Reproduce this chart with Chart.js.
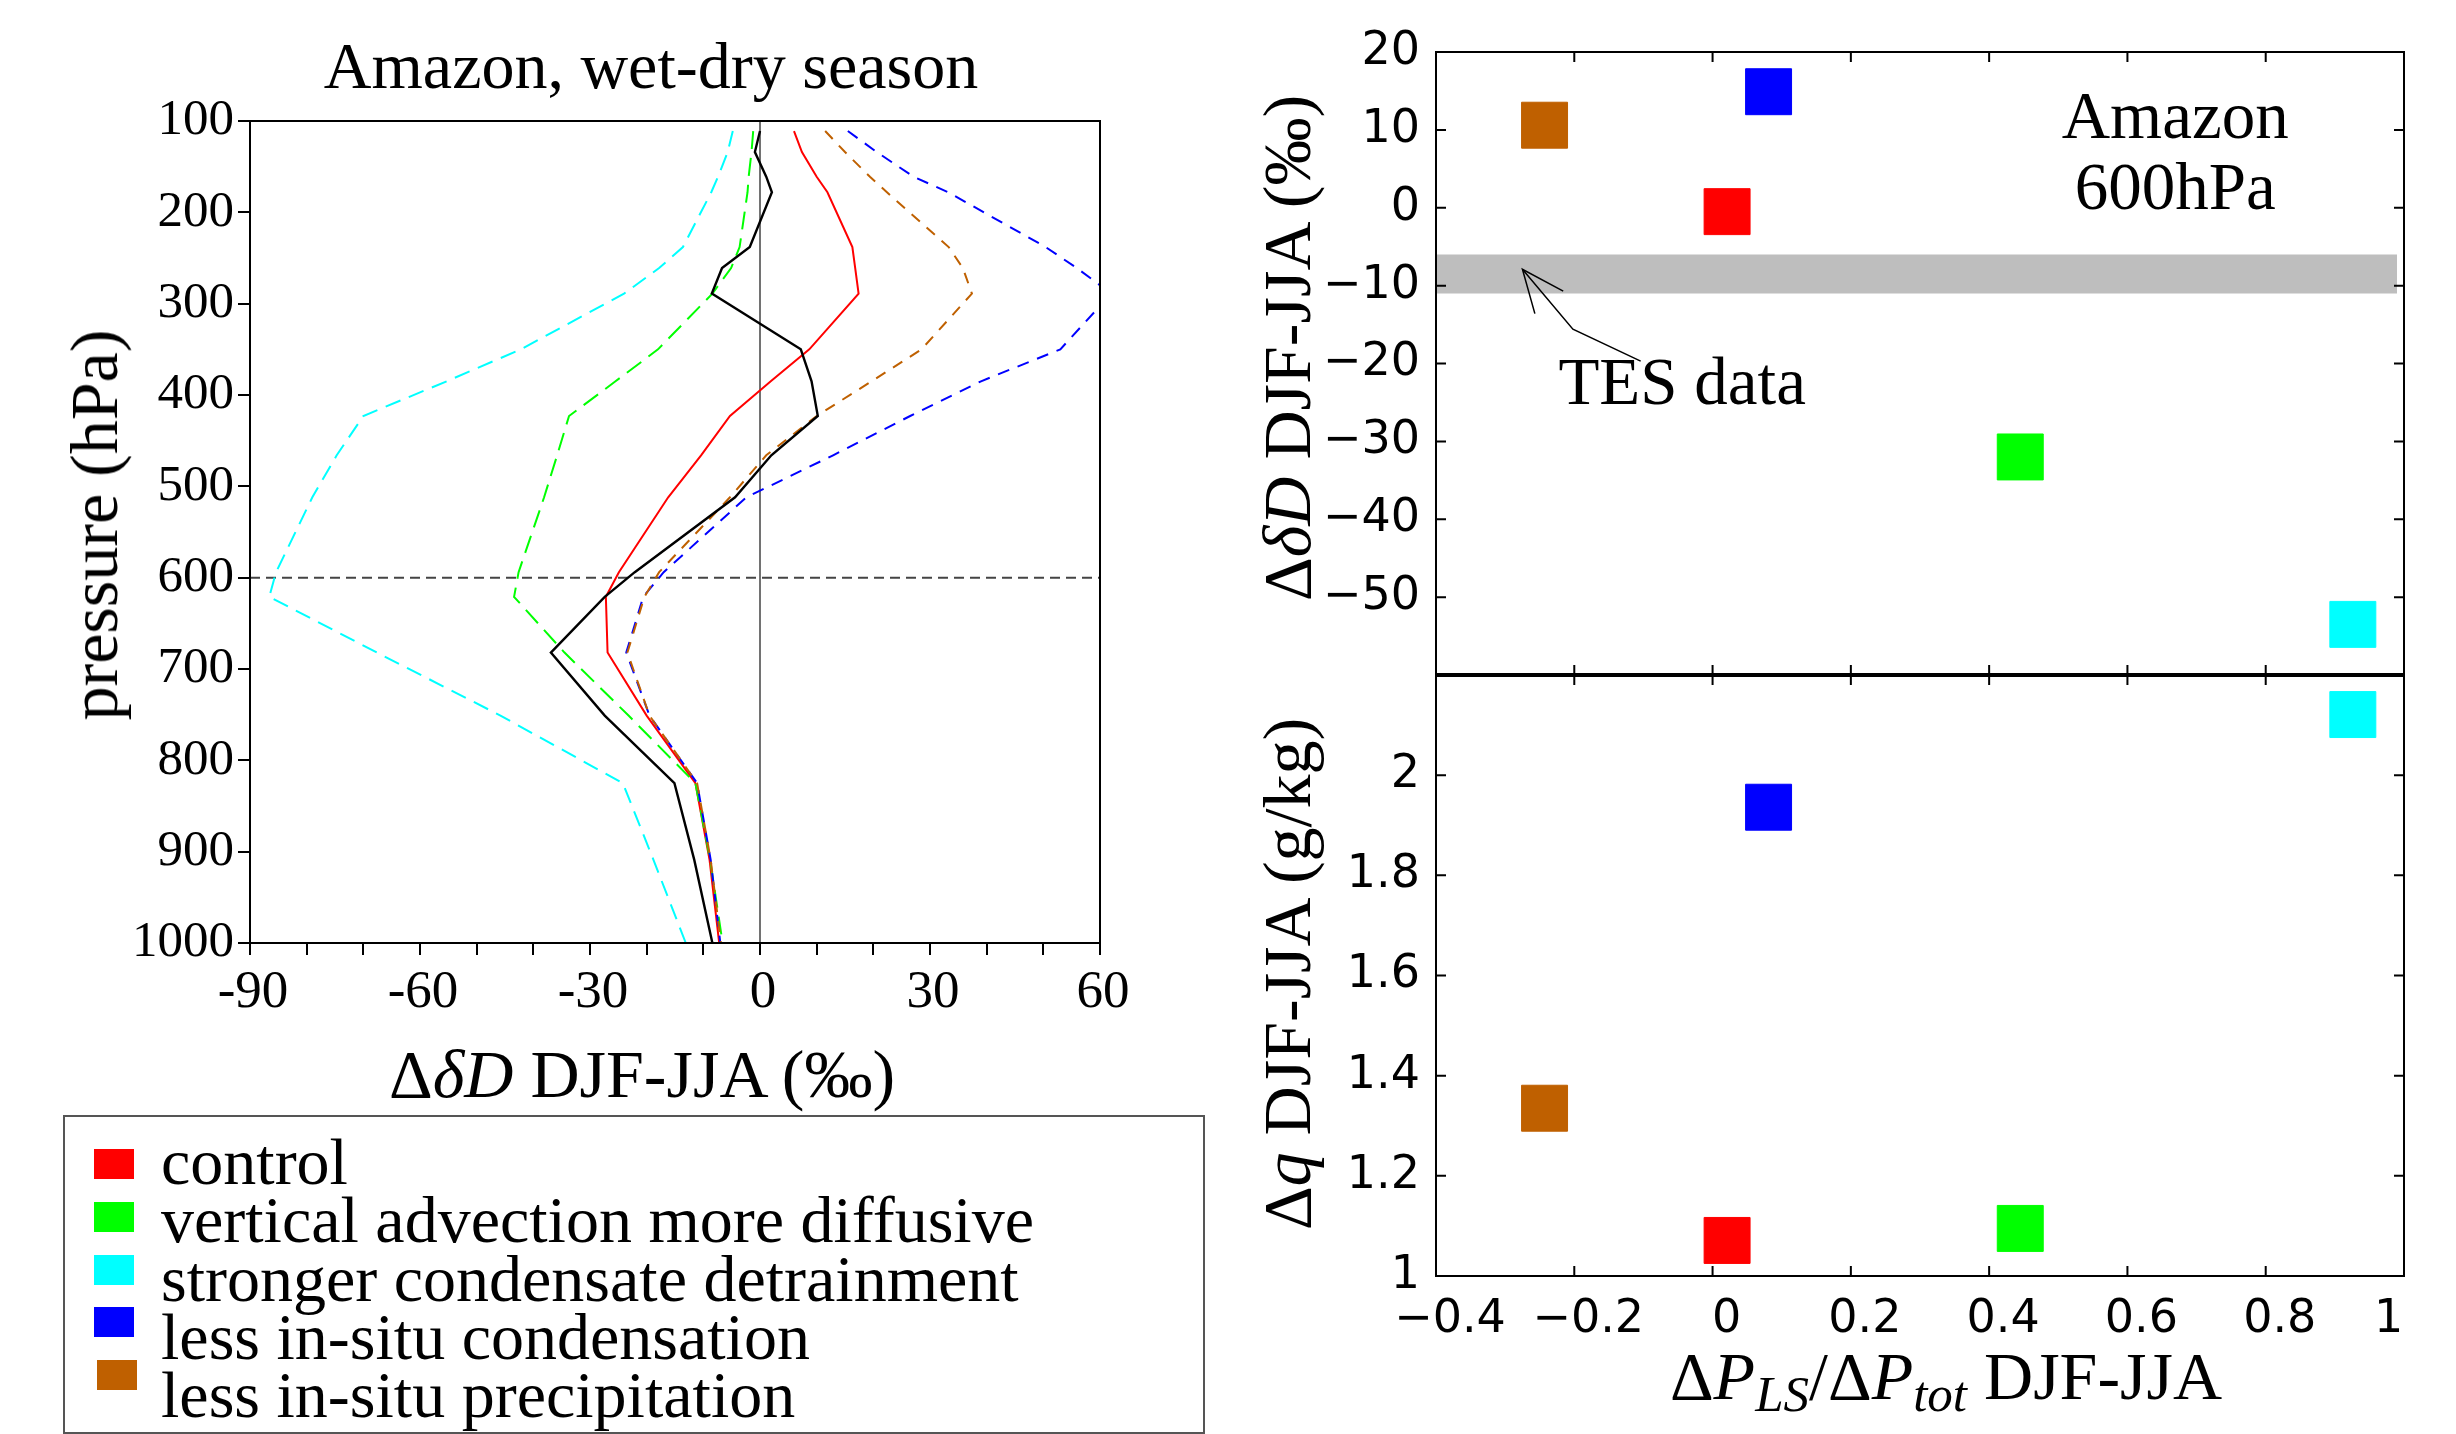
<!DOCTYPE html>
<html lang="en">
<head>
<meta charset="UTF-8">
<title>Amazon, wet-dry season</title>
<script src="https://cdn.jsdelivr.net/npm/chart.js"></script>
<style>
    body {
        margin: 0;
        width: 2456px;
        height: 1434px;
        position: relative;
        overflow: hidden;
        background: #fff;
        color: #000;
        font-family: "Liberation Serif", serif;
    }
    canvas { position: absolute; left: 0; top: 0; }
    .lbl {
        position: absolute;
        white-space: nowrap;
        font-size: 68px;
        line-height: 1;
        transform: translate(-50%, -50%);
    }
    .rot { transform: translate(-50%, -50%) rotate(-90deg); }
    .lbl sub { font-size: 0.75em; font-style: italic; vertical-align: -0.25em; }
    #legend {
        position: absolute;
        left: 63px;
        top: 1115px;
        width: 1138px;
        height: 315px;
        border: 2px solid #555;
    }
    .key { position: absolute; width: 40px; height: 30px; }
    .entry {
        position: absolute;
        left: 96px;
        font-size: 66px;
        line-height: 1;
        white-space: nowrap;
        transform: translateY(-50%);
    }
</style>
</head>
<body>
<canvas id="profiles" width="2456" height="1434"></canvas>
<canvas id="dDpanel" width="2456" height="1434"></canvas>
<canvas id="dqpanel" width="2456" height="1434"></canvas>

<div class="lbl" style="left:651px;top:66px;font-size:66px">Amazon, wet-dry season</div>
<div class="lbl" style="left:642px;top:1074px">Δ<i>δD</i> DJF-JJA (‰)</div>
<div class="lbl rot" style="left:94px;top:525px">pressure (hPa)</div>
<div class="lbl rot" style="left:1287px;top:348px">Δ<i>δD</i> DJF-JJA (‰)</div>
<div class="lbl rot" style="left:1287px;top:974px">Δ<i>q</i> DJF-JJA (g/kg)</div>
<div class="lbl" style="left:1946px;top:1381px">Δ<i>P</i><sub>LS</sub>/Δ<i>P</i><sub>tot</sub> DJF-JJA</div>
<div id="legend"></div>

<script>
    // experiments: names and colours shared by the legend and both panels
    const expNames = ['control', 'vertical advection more diffusive', 'stronger condensate detrainment',
                      'less in-situ condensation', 'less in-situ precipitation'];
    const expColors = ['#ff0000', '#00ff00', '#00ffff', '#0000ff', '#bf6000'];

    // model levels (hPa) and wet-dry season deltaD differences (permil)
    const levels      = [111, 134, 161, 178, 238, 261, 289, 350, 385, 423, 466, 512, 594, 621, 682, 751, 825, 909, 1000];
    const dDcontrol   = [6.0, 7.4, 10.0, 11.9, 16.3, 16.8, 17.4, 8.7, 1.9, -5.3, -10.4, -16.2, -24.9, -27.2, -26.9, -20.0, -11.4, -8.9, -7.2];
    const dDdiffusive = [-1.2, -1.5, -2.0, -2.2, -3.6, -5.1, -8.4, -18.0, -25.5, -33.7, -35.8, -38.1, -42.6, -43.4, -34.5, -23.2, -11.4, -8.8, -6.6];
    const dDdetrain   = [-4.8, -5.7, -7.4, -8.6, -13.6, -17.8, -24.0, -42.2, -55.3, -70.0, -74.7, -79.0, -85.4, -86.6, -67.6, -45.8, -24.2, -18.8, -13.1];
    const dDlessCond  = [15.5, 20.6, 27.1, 33.2, 50.4, 55.9, 62.0, 53.0, 39.0, 26.5, 12.9, -2.4, -17.0, -20.6, -23.6, -19.5, -11.1, -8.7, -7.0];
    const dDlessPrec  = [11.5, 15.0, 19.4, 22.4, 33.3, 35.8, 37.4, 28.5, 19.7, 10.0, 1.1, -5.3, -17.8, -20.4, -23.4, -19.5, -11.1, -8.7, -6.9];
    const dDblack     = [0.0, -0.9, 1.1, 2.1, -1.8, -6.7, -8.5, 7.2, 9.1, 10.2, 2.0, -4.4, -22.1, -27.4, -36.9, -27.4, -15.1, -11.6, -8.4];

    // 600 hPa values per experiment (same order as expNames)
    const lsFraction = [0.021, 0.445, 0.926, 0.081, -0.243];
    const dD600      = [-0.5, -32.0, -53.5, 14.9, 10.6];
    const dq600      = [1.071, 1.095, 2.121, 1.936, 1.335];

    // TES observed range at 600 hPa and the arrow pointing at it
    const tesRange = [-11, -6];
    const tesSpan  = [-0.4, 0.99];
    const tesArrowShaft = [[-0.275, -7.9], [-0.202, -15.6], [-0.104, -19.7]];
    const tesArrowHead  = [[-0.216, -10.7], [-0.275, -7.9], [-0.257, -13.6]];

    Chart.defaults.font.family = '"Liberation Serif", serif';
    Chart.defaults.color = '#000';
    Chart.defaults.animation = false;
    Chart.defaults.responsive = false;
    Chart.defaults.events = [];
    Chart.defaults.plugins.legend.display = false;
    Chart.defaults.plugins.tooltip.enabled = false;

    const minus = v => {
        const n = parseFloat(v.toFixed(1));
        return n < 0 ? '\u2212' + Math.abs(n) : String(n);
    };

    // frame around the plot area, optionally with inward ticks on all four sides
    const frame = {
        id: 'frame',
        afterDraw(chart, args, opts) {
            const {ctx, chartArea: a, scales} = chart;
            ctx.save();
            ctx.strokeStyle = '#000';
            ctx.lineWidth = 2;
            if (opts.inner) {
                ctx.beginPath();
                for (const t of scales.x.ticks) {
                    const px = scales.x.getPixelForValue(t.value);
                    ctx.moveTo(px, a.top); ctx.lineTo(px, a.top + opts.inner);
                    ctx.moveTo(px, a.bottom); ctx.lineTo(px, a.bottom - opts.inner);
                }
                for (const t of scales.y.ticks) {
                    const py = scales.y.getPixelForValue(t.value);
                    ctx.moveTo(a.left, py); ctx.lineTo(a.left + opts.inner, py);
                    ctx.moveTo(a.right, py); ctx.lineTo(a.right - opts.inner, py);
                }
                ctx.stroke();
            }
            ctx.strokeRect(a.left, a.top, a.width, a.height);
            if (opts.bottomWidth) {
                ctx.lineWidth = opts.bottomWidth;
                ctx.beginPath();
                ctx.moveTo(a.left - 1, a.bottom);
                ctx.lineTo(a.right + 1, a.bottom);
                ctx.stroke();
            }
            ctx.restore();
        }
    };

    // text placed in data coordinates
    const notes = {
        id: 'notes',
        afterDatasetsDraw(chart, args, opts) {
            if (!opts.items) return;
            const {ctx, scales} = chart;
            ctx.save();
            ctx.fillStyle = '#000';
            ctx.textAlign = 'center';
            ctx.textBaseline = 'middle';
            ctx.font = opts.font;
            for (const n of opts.items) {
                ctx.fillText(n.text, scales.x.getPixelForValue(n.x), scales.y.getPixelForValue(n.y));
            }
            ctx.restore();
        }
    };

    const fixSize = (prop, size) => scale => { scale[prop] = size; };
    const line = (data, color, width, dash) => ({
        data, showLine: true, borderColor: color, borderWidth: width,
        borderDash: dash || [], pointRadius: 0, fill: false, tension: 0
    });
    const profile = vals => vals.map((v, i) => ({x: v, y: levels[i]}));
    const pts = arr => arr.map(p => ({x: p[0], y: p[1]}));

    // ---- vertical profiles ----
    new Chart(document.getElementById('profiles'), {
        type: 'scatter',
        data: {
            datasets: [
                line(profile(dDblack), '#000', 2.4),
                line(profile(dDlessPrec), expColors[4], 2, [11, 9]),
                line(profile(dDlessCond), expColors[3], 2, [12, 9]),
                line(profile(dDdiffusive), expColors[1], 2, [18, 9]),
                line(profile(dDdetrain), expColors[2], 2, [16, 9]),
                line(profile(dDcontrol), expColors[0], 2),
                line([{x: 0, y: 100}, {x: 0, y: 1000}], '#444', 1.5),
                line([{x: -90, y: 600}, {x: 60, y: 600}], '#444', 2, [10, 6])
            ]
        },
        options: {
            layout: {padding: {top: 121, right: 1356, left: 0, bottom: 0}},
            scales: {
                x: {
                    type: 'linear', min: -90, max: 60,
                    afterFit: fixSize('height', 491),
                    grid: {drawOnChartArea: false, tickLength: 12, color: '#000', lineWidth: 2},
                    border: {color: '#000', width: 2},
                    ticks: {
                        stepSize: 10, autoSkip: false, maxRotation: 0, padding: 6, labelOffset: 3,
                        font: {size: 53},
                        callback: v => (v % 30 === 0 ? String(v) : '')
                    }
                },
                y: {
                    type: 'linear', min: 100, max: 1000, reverse: true,
                    afterFit: fixSize('width', 250),
                    grid: {drawOnChartArea: false, tickLength: 12, color: '#000', lineWidth: 2},
                    border: {color: '#000', width: 2},
                    ticks: {stepSize: 100, autoSkip: false, padding: 4, font: {size: 51}, callback: v => String(v)}
                }
            },
            plugins: {frame: {}}
        },
        plugins: [frame]
    });

    // ---- deltaD at 600 hPa against large-scale precipitation fraction ----
    const squares = vals => vals.map((v, i) => ({x: lsFraction[i], y: v}));
    const squareSet = vals => ({
        data: squares(vals),
        pointStyle: 'rect', pointRadius: 32.5, borderWidth: 1,
        pointBackgroundColor: expColors, pointBorderColor: expColors, showLine: false
    });
    const rightX = {
        type: 'linear', min: -0.4, max: 1,
        grid: {display: false}, border: {display: false},
        ticks: {stepSize: 0.2, autoSkip: false, maxRotation: 0}
    };
    const rightTickFont = {family: '"DejaVu Sans", sans-serif', size: 46};

    new Chart(document.getElementById('dDpanel'), {
        type: 'scatter',
        data: {
            datasets: [
                squareSet(dD600),
                line(pts(tesArrowShaft), '#000', 1.5),
                line(pts(tesArrowHead), '#000', 1.5),
                {
                    data: tesSpan.map(x => ({x, y: tesRange[1]})), showLine: true,
                    borderWidth: 0, pointRadius: 0, fill: '+1', backgroundColor: '#bebebe'
                },
                {
                    data: tesSpan.map(x => ({x, y: tesRange[0]})), showLine: true,
                    borderWidth: 0, pointRadius: 0, fill: false
                }
            ]
        },
        options: {
            layout: {padding: {top: 52, right: 52, left: 0, bottom: 759}},
            scales: {
                x: Object.assign({}, rightX, {
                    afterFit: fixSize('height', 0),
                    ticks: Object.assign({}, rightX.ticks, {display: false})
                }),
                y: {
                    type: 'linear', min: -60, max: 20,
                    afterFit: fixSize('width', 1436),
                    grid: {display: false}, border: {display: false},
                    ticks: {
                        stepSize: 10, autoSkip: false, padding: 8, font: rightTickFont,
                        callback: v => (v === -60 ? '' : minus(v))
                    }
                }
            },
            plugins: {
                frame: {inner: 10, bottomWidth: 4},
                notes: {
                    font: '67px "Liberation Serif", serif',
                    items: [
                        {text: 'Amazon', x: 0.669, y: 11.2},
                        {text: '600hPa', x: 0.669, y: 2.1},
                        {text: 'TES data', x: -0.044, y: -23.0}
                    ]
                }
            }
        },
        plugins: [frame, notes]
    });

    // ---- humidity change at 600 hPa ----
    new Chart(document.getElementById('dqpanel'), {
        type: 'scatter',
        data: {datasets: [squareSet(dq600)]},
        options: {
            layout: {padding: {top: 675, right: 52, left: 0, bottom: 0}},
            scales: {
                x: Object.assign({}, rightX, {
                    afterFit: fixSize('height', 158),
                    ticks: Object.assign({}, rightX.ticks, {
                        padding: 8, labelOffset: 14, font: rightTickFont,
                        // the last label sits just inside the right edge
                        callback: v => (v >= 1 ? minus(v) + '\u00a0\u00a0\u00a0\u00a0' : minus(v))
                    })
                }),
                y: {
                    type: 'linear', min: 1, max: 2.2,
                    afterFit: fixSize('width', 1436),
                    grid: {display: false}, border: {display: false},
                    ticks: {
                        stepSize: 0.2, autoSkip: false, padding: 8, font: rightTickFont,
                        callback: v => (v > 2.1 ? '' : minus(v))
                    }
                }
            },
            plugins: {frame: {inner: 10}}
        },
        plugins: [frame]
    });

    // legend box built from the experiment list
    const legend = document.getElementById('legend');
    expNames.forEach((name, i) => {
        const key = document.createElement('div');
        key.className = 'key';
        key.style.background = expColors[i];
        key.style.left = (i === 4 ? 32 : 29) + 'px';
        key.style.top = (32 + i * 52.8) + 'px';
        legend.appendChild(key);
        const entry = document.createElement('div');
        entry.className = 'entry';
        entry.style.top = (45 + i * 58.3) + 'px';
        entry.textContent = name;
        legend.appendChild(entry);
    });
</script>
</body>
</html>
